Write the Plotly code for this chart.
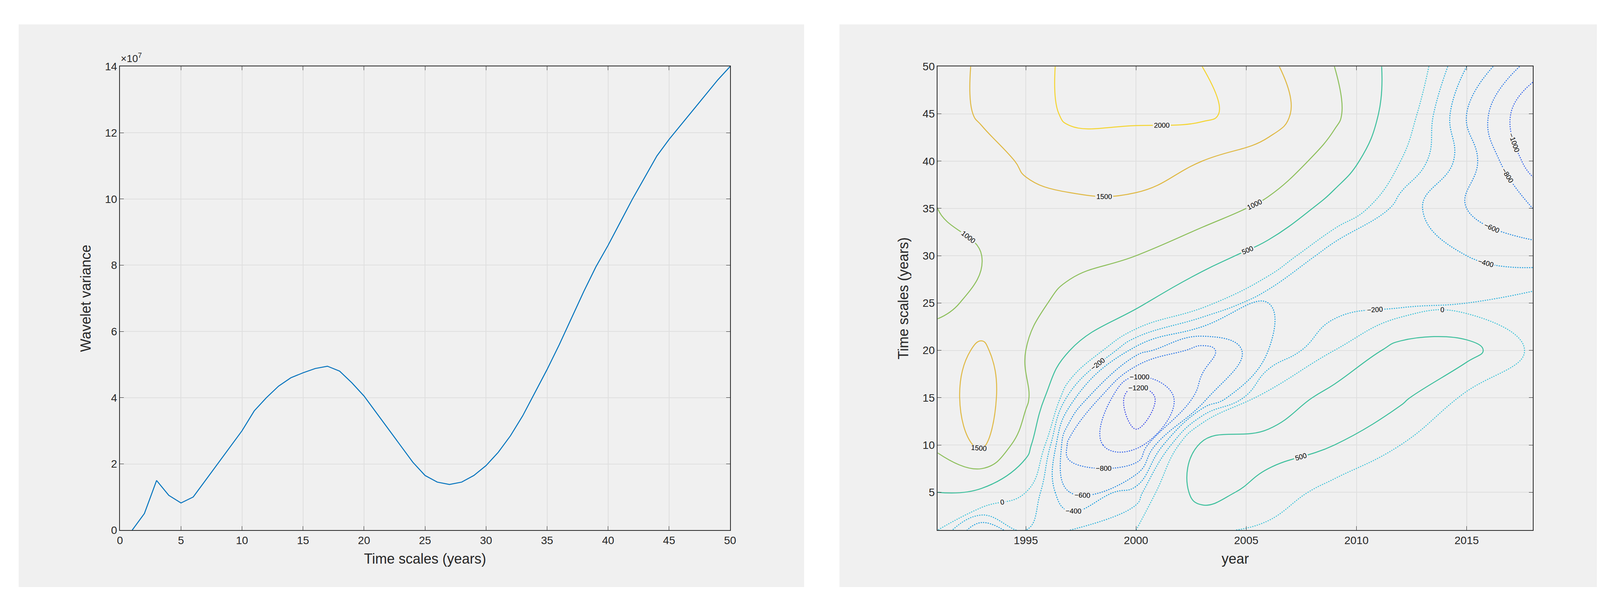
import plotly.graph_objects as go

scales = list(range(1, 51))
variance_e7 = [0.0,0.5,1.5,1.05,0.82,1.0,1.5,2.0,2.5,3.0,3.6,4.0,4.35,4.6,4.75,4.88,4.95,4.8,4.45,4.05,
               3.55,3.05,2.55,2.05,1.65,1.45,1.38,1.45,1.65,1.95,2.35,2.85,3.45,4.15,4.85,5.6,6.4,7.2,7.95,8.6,
               9.3,10.0,10.65,11.3,11.8,12.25,12.7,13.15,13.6,14.0]
variance = [v * 1e7 for v in variance_e7]

years = [1991,1993,1995,1997,2000,2003,2006,2009,2012,2015,2018]
tscale = [1,5,10,15,20,25,30,35,40,45,50]
Z = [
 [0,-600,-200,-200,0,100,-100,-100,-100,0,0],
 [500,400,0,-600,-300,700,300,-200,0,-100,0],
 [1100,1600,700,-900,-1100,600,700,500,0,-100,0],
 [1300,1700,1100,-300,-1400,-700,100,700,600,-100,-100],
 [1200,1600,1000,500,-500,-900,-400,0,700,700,-100],
 [900,1100,1100,900,600,100,-400,-300,-300,-200,-100],
 [900,1000,1200,1100,1000,700,300,-400,-300,-400,-500],
 [1000,1100,1300,1400,1400,1200,900,300,-300,-600,-800],
 [1000,1200,1600,1700,1700,1500,1300,800,0,-500,-1100],
 [1100,1600,1700,2100,2100,2100,1700,1100,200,-600,-1200],
 [1200,1600,1800,2100,2200,2000,1600,1000,300,-400,-900],
]
levels = [-1400,-1200,-1000,-800,-600,-400,-200,0,500,1000,1500,2000]
level_colors = ['#4b3ad8','#3f4ee8','#3462ea','#2a76e6','#1f8ae0','#1a9ede','#2cb2dc','#3ec3d8',
                '#3cbf9c','#8cbf5a','#dfb842','#f4d42e']

fig = go.Figure()
fig.add_trace(go.Scatter(x=scales, y=variance, mode='lines', line=dict(color='#0072BD', width=2.5),
                         xaxis='x', yaxis='y', showlegend=False))
for lv, col in zip(levels, level_colors):
    fig.add_trace(go.Contour(x=years, y=tscale, z=Z, xaxis='x2', yaxis='y2', showscale=False,
                             contours=dict(start=lv, end=lv, size=100, coloring='none', showlabels=True,
                                           labelfont=dict(size=18, color='black', family='Arial')),
                             line=dict(color=col, width=2.5, dash='solid' if lv > 0 else 'dot', smoothing=1.3),
                             hoverinfo='skip'))

ax = dict(showline=True, linecolor='#262626', linewidth=1.5, mirror='ticks', ticks='inside', ticklen=10,
          tickcolor='#262626', showgrid=True, gridcolor='#dfdfdf', gridwidth=1.5, zeroline=False,
          tickfont=dict(size=28, color='#262626', family='Arial'))
tf = dict(size=36, color='#262626', family='Arial')
fig.update_layout(
    width=4142, height=1550, margin=dict(l=0, r=0, t=0, b=0),
    paper_bgcolor='white', plot_bgcolor='white', showlegend=False,
    xaxis=dict(ax, domain=[0.0707, 0.450], range=[0, 50], tickvals=list(range(0, 51, 5)),
               title=dict(text='Time scales (years)', font=tf, standoff=20)),
    yaxis=dict(ax, domain=[0.121, 0.903], range=[0, 14e7], tickvals=[i*2e7 for i in range(8)],
               ticktext=[str(i*2) for i in range(8)], title=dict(text='Wavelet variance', font=tf, standoff=25)),
    xaxis2=dict(ax, domain=[0.579, 0.949], range=[1991, 2018], tickvals=[1995, 2000, 2005, 2010, 2015],
                anchor='y2', title=dict(text='year', font=tf, standoff=20)),
    yaxis2=dict(ax, domain=[0.121, 0.903], range=[1, 50], tickvals=list(range(5, 51, 5)), anchor='x2',
                title=dict(text='Time scales (years)', font=tf, standoff=25)),
    shapes=[
        dict(type='rect', xref='paper', yref='paper', x0=0.0077, x1=0.496, y0=0.025, y1=0.974,
             fillcolor='#f0f0f0', line=dict(width=0), layer='below'),
        dict(type='rect', xref='paper', yref='paper', x0=0.518, x1=0.994, y0=0.025, y1=0.974,
             fillcolor='#f0f0f0', line=dict(width=0), layer='below'),
    ],
    annotations=[dict(xref='paper', yref='paper', x=0.0707, y=0.905, xanchor='left', yanchor='bottom',
                      text='×10<sup>7</sup>', showarrow=False, font=dict(size=26, color='#262626', family='Arial'))],
)
fig.write_html('out.html')
